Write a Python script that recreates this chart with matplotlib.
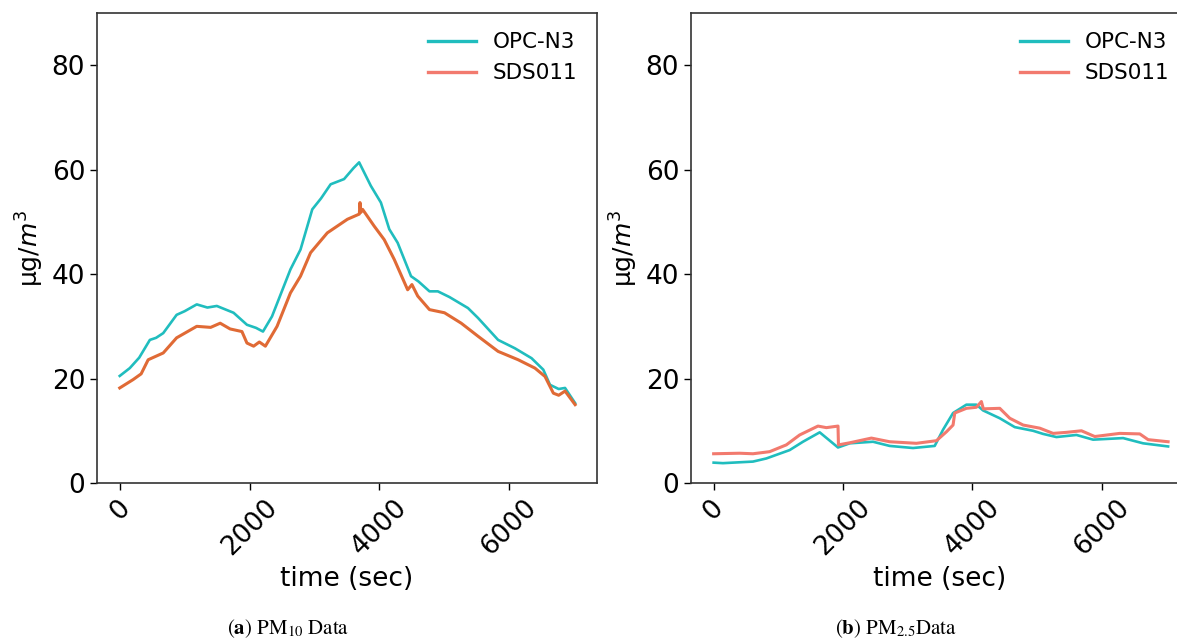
import matplotlib.pyplot as plt
from matplotlib.lines import Line2D

# PM10 - OPC-N3
t10_opc = [0, 155, 300, 464, 560, 670, 876, 1000, 1186, 1350, 1495, 1753, 1959, 2100, 2206, 2345,
           2629, 2784, 2965, 3100, 3248, 3455, 3600, 3687, 3867, 4022, 4151, 4280, 4486, 4600,
           4770, 4899, 5079, 5363, 5518, 5827, 6085, 6342, 6523, 6626, 6760, 6858, 7013]
pm10_opc = [20.5, 22.0, 24.0, 27.4, 27.8, 28.7, 32.2, 32.9, 34.2, 33.6, 33.9, 32.6, 30.3, 29.7, 29.0, 31.9,
            40.9, 44.7, 52.4, 54.5, 57.2, 58.2, 60.3, 61.4, 56.9, 53.7, 48.6, 46.0, 39.6, 38.6,
            36.7, 36.7, 35.6, 33.5, 31.6, 27.4, 25.8, 23.9, 21.7, 18.8, 18.0, 18.2, 15.3]

# PM10 - SDS011
t10_sds = [0, 206, 330, 438, 670, 876, 1186, 1400, 1547, 1700, 1882, 1959, 2062, 2150, 2243, 2423,
           2629, 2784, 2939, 3197, 3506, 3690, 3700, 3712, 3740, 3918, 4073, 4228, 4434, 4500,
           4589, 4770, 5001, 5259, 5518, 5827, 6136, 6394, 6549, 6678, 6760, 6858, 7013]
pm10_sds = [18.2, 19.8, 20.9, 23.6, 24.9, 27.8, 30.0, 29.8, 30.6, 29.5, 29.0, 26.8, 26.2, 27.0, 26.2, 30.0,
            36.4, 39.6, 44.1, 47.9, 50.5, 51.5, 53.7, 51.8, 52.4, 49.2, 46.6, 42.8, 37.0, 38.0,
            35.8, 33.2, 32.6, 30.6, 28.1, 25.2, 23.6, 22.0, 20.4, 17.2, 16.8, 17.6, 15.0]

# PM2.5 - OPC-N3
t25_opc = [0, 144, 608, 815, 1175, 1381, 1640, 1923, 2104, 2464, 2722, 3083, 3418, 3547, 3702,
           3908, 4063, 4166, 4424, 4656, 4939, 5094, 5300, 5610, 5867, 6331, 6640, 7027]
pm25_opc = [3.9, 3.8, 4.1, 4.7, 6.3, 7.9, 9.7, 6.8, 7.6, 7.9, 7.1, 6.7, 7.1, 10.2, 13.4,
            15.0, 15.0, 13.9, 12.4, 10.7, 10.0, 9.4, 8.8, 9.2, 8.3, 8.6, 7.6, 7.0]

# PM2.5 - SDS011
t25_sds = [0, 402, 608, 866, 1124, 1330, 1613, 1743, 1923, 1930, 2104, 2439, 2722, 3135, 3444,
           3599, 3702, 3728, 3908, 4063, 4140, 4170, 4424, 4579, 4785, 5043, 5249, 5455, 5687,
           5893, 6280, 6589, 6718, 7027]
pm25_sds = [5.6, 5.7, 5.6, 6.0, 7.3, 9.2, 10.9, 10.6, 10.9, 7.3, 7.7, 8.6, 7.9, 7.6, 8.1,
            9.8, 11.1, 13.4, 14.3, 14.5, 15.6, 14.2, 14.3, 12.4, 11.1, 10.5, 9.5, 9.7, 10.0,
            8.9, 9.5, 9.4, 8.3, 7.9]

teal = '#20bdbe'
salmon = '#f27a6e'
orange = '#e06a35'

fig = plt.figure(figsize=(11.77, 6.38), dpi=100)
ax1 = fig.add_axes([97 / 1177, 1 - 483 / 638, 500 / 1177, 470 / 638])
ax2 = fig.add_axes([691 / 1177, 1 - 483 / 638, 498 / 1177, 470 / 638])

ax1.plot(t10_opc, pm10_opc, color=teal, lw=1.9)
ax1.plot(t10_sds, pm10_sds, color=orange, lw=2.2)
ax2.plot(t25_opc, pm25_opc, color=teal, lw=1.9)
ax2.plot(t25_sds, pm25_sds, color=salmon, lw=2.2)

handles = [Line2D([], [], color=teal, lw=2.4), Line2D([], [], color=salmon, lw=2.4)]
for ax in (ax1, ax2):
    ax.set_ylim(0, 90)
    ax.set_xlim(-350, 7350)
    ax.set_yticks([0, 20, 40, 60, 80])
    ax.set_xticks([0, 2000, 4000, 6000])
    ax.tick_params(labelsize=19, length=5, width=1)
    for lab in ax.get_xticklabels():
        lab.set_rotation(45)
    ax.set_xlabel('time (sec)', fontsize=19)
    ax.set_ylabel('µg/$m^3$', fontsize=18, labelpad=4)
    for s in ax.spines.values():
        s.set_color('#333333')
        s.set_linewidth(1.2)
    ax.legend(handles, ['OPC-N3', 'SDS011'], loc='upper right', frameon=False,
              fontsize=15.5, handlelength=2.2)

fig.text(288 / 1177, 1 - 629 / 638, r'($\mathbf{a}$) PM$_{10}$ Data', ha='center', va='center',
         fontsize=15, family='STIXGeneral', math_fontfamily='stix')
fig.text(896 / 1177, 1 - 629 / 638, r'($\mathbf{b}$) PM$_{2.5}$Data', ha='center', va='center',
         fontsize=15, family='STIXGeneral', math_fontfamily='stix')

fig.savefig('out.png', dpi=100)
